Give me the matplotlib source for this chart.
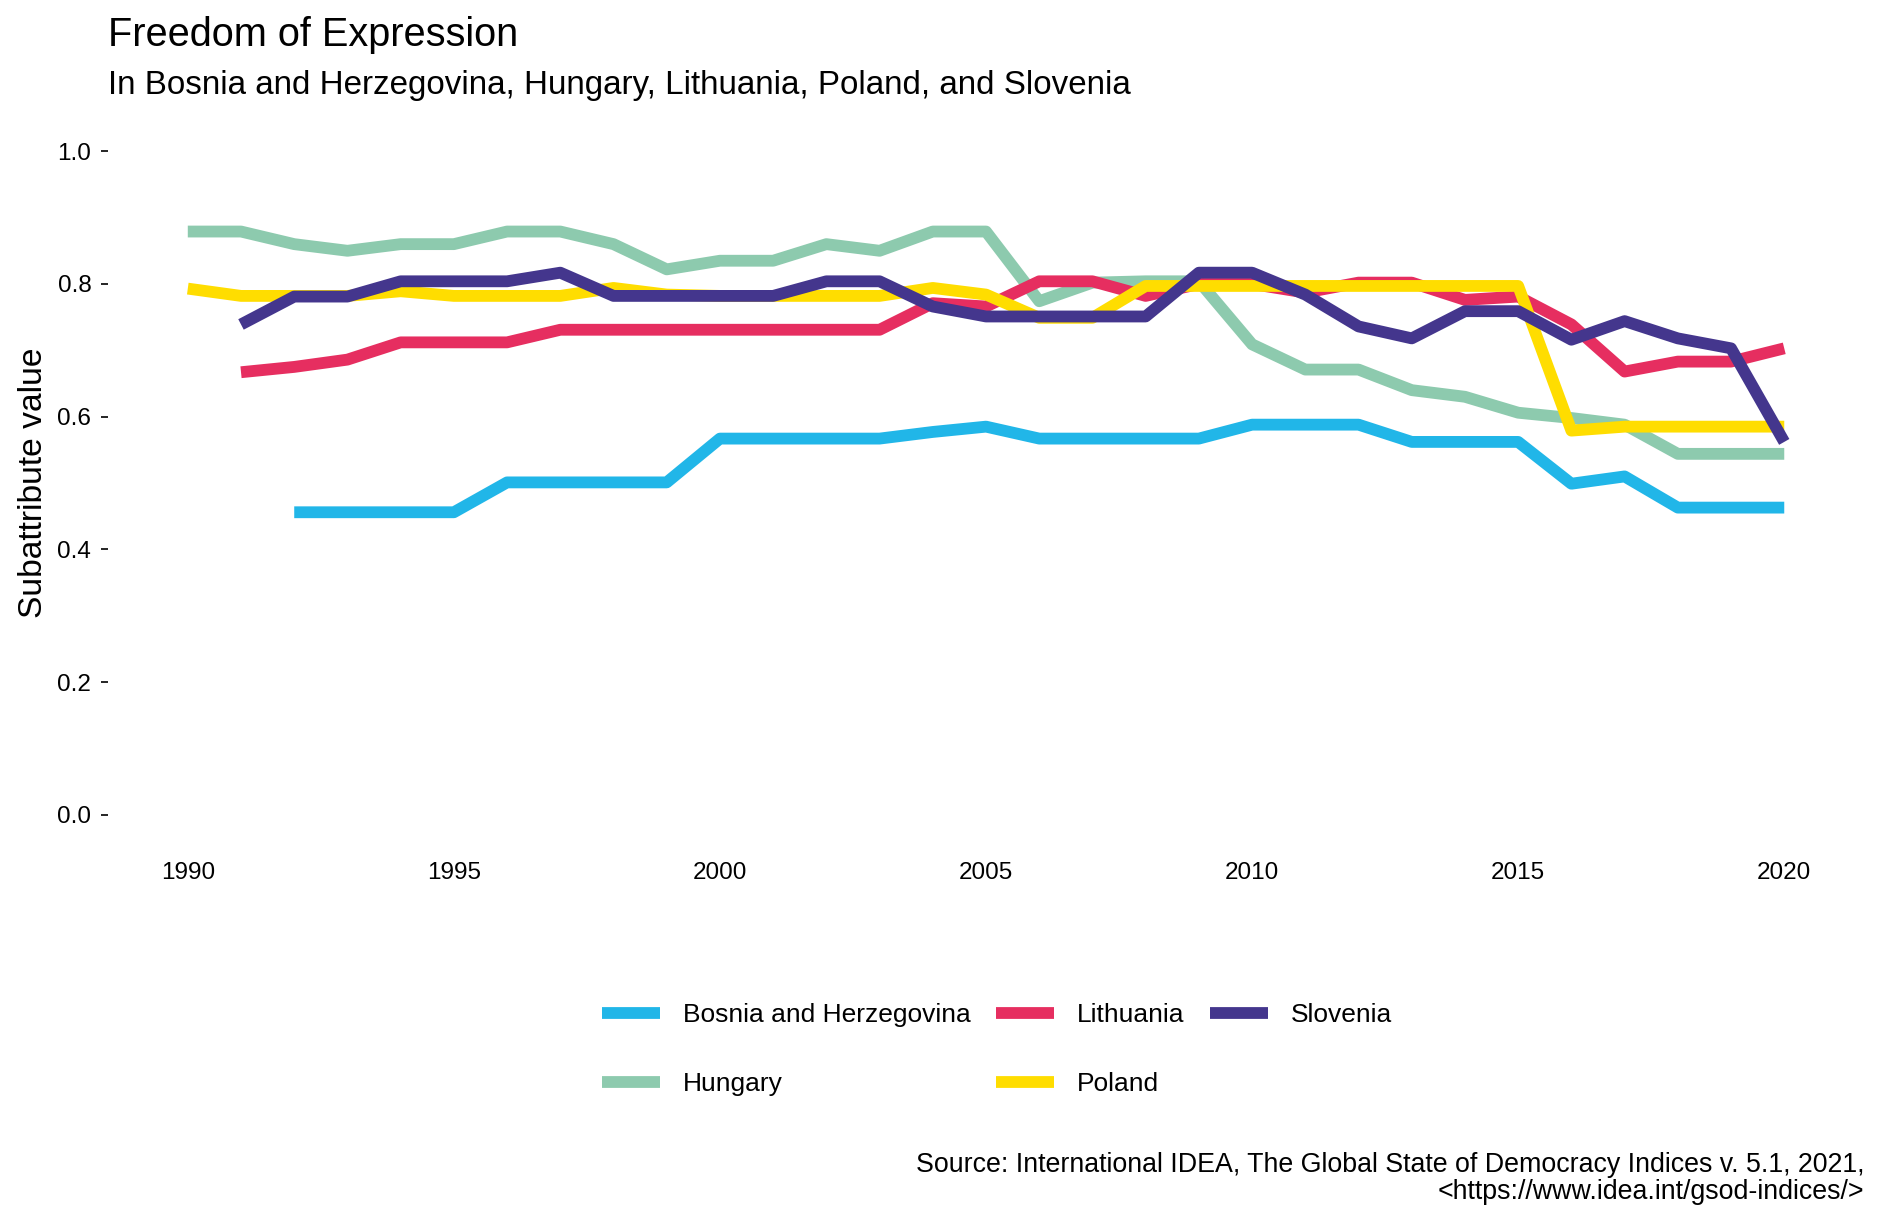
"""Freedom of Expression line chart (GSoD indices), five countries."""

import matplotlib

matplotlib.use('Agg')
import matplotlib.pyplot as plt

plt.rcParams['font.family'] = ['Liberation Sans', 'DejaVu Sans']

years_hun = list(range(1990, 2021))
years_pol = list(range(1990, 2021))
years_ltu = list(range(1991, 2021))
years_svn = list(range(1991, 2021))
years_bih = list(range(1992, 2021))

bosnia = [
    0.456, 0.456, 0.456, 0.456, 0.501, 0.501, 0.501, 0.501,
    0.567, 0.567, 0.567, 0.567, 0.577, 0.585, 0.567, 0.567, 0.567, 0.567,
    0.588, 0.588, 0.588, 0.562, 0.562, 0.562, 0.499, 0.510, 0.463, 0.463, 0.463,
]
hungary = [
    0.879, 0.879, 0.860, 0.850, 0.860, 0.860, 0.879, 0.879, 0.860, 0.822,
    0.835, 0.835, 0.860, 0.850, 0.879, 0.879, 0.774, 0.802, 0.804, 0.804,
    0.709, 0.671, 0.671, 0.640, 0.630, 0.606, 0.598, 0.588, 0.544, 0.544, 0.544,
]
lithuania = [
    0.667, 0.675, 0.686, 0.712, 0.712, 0.712, 0.731, 0.731, 0.731,
    0.731, 0.731, 0.731, 0.731, 0.771, 0.766, 0.804, 0.804, 0.782, 0.800,
    0.800, 0.787, 0.802, 0.802, 0.776, 0.781, 0.739, 0.668, 0.683, 0.683, 0.703,
]
poland = [
    0.793, 0.782, 0.782, 0.782, 0.789, 0.782, 0.782, 0.782, 0.794, 0.784,
    0.782, 0.782, 0.782, 0.782, 0.794, 0.784, 0.749, 0.749, 0.797, 0.797,
    0.797, 0.797, 0.797, 0.797, 0.797, 0.797, 0.579, 0.585, 0.585, 0.585, 0.585,
]
slovenia = [
    0.739, 0.781, 0.781, 0.804, 0.804, 0.804, 0.817, 0.782, 0.782,
    0.782, 0.782, 0.804, 0.804, 0.766, 0.751, 0.751, 0.751, 0.751, 0.817,
    0.817, 0.784, 0.736, 0.718, 0.759, 0.759, 0.716, 0.744, 0.718, 0.703, 0.562,
]

series = [
    ('Bosnia and Herzegovina', years_bih, bosnia, '#21b6e8'),
    ('Hungary', years_hun, hungary, '#8dcaae'),
    ('Lithuania', years_ltu, lithuania, '#e62e60'),
    ('Poland', years_pol, poland, '#ffdd00'),
    ('Slovenia', years_svn, slovenia, '#44368d'),
]

x_ticks = [1990, 1995, 2000, 2005, 2010, 2015, 2020]
y_ticks = [0.0, 0.2, 0.4, 0.6, 0.8, 1.0]

fig = plt.figure(figsize=(18.81, 12.22), dpi=100)
ax = fig.add_axes([0.0574, 0.306, 0.9336, 0.5974])

for name, xs, ys, color in series:
    ax.plot(
        xs, ys,
        color=color,
        linewidth=8.5,
        solid_capstyle='butt',
        solid_joinstyle='round',
        label=name,
    )

ax.set_xlim(1988.5, 2021.5)
ax.set_ylim(-0.05, 1.05)
ax.set_xticks(x_ticks)
ax.set_xticklabels([str(y) for y in x_ticks])
ax.set_yticks(y_ticks)
ax.set_yticklabels([f'{v:.1f}' for v in y_ticks])
ax.tick_params(axis='x', length=0, pad=10, labelsize=17.5)
ax.tick_params(axis='y', length=5, width=1.2, pad=7, labelsize=17.5)
for spine in ax.spines.values():
    spine.set_visible(False)
ax.set_ylabel('Subattribute value', fontsize=24.2, labelpad=6)

fig.text(0.0574, 0.971, 'Freedom of Expression', fontsize=28.6, va='center', ha='left')
fig.text(0.0574, 0.930,
         'In Bosnia and Herzegovina, Hungary, Lithuania, Poland, and Slovenia',
         fontsize=23.9, va='center', ha='left')

fig.legend(
    loc='center',
    bbox_to_anchor=(0.53, 0.141),
    ncol=3,
    frameon=False,
    fontsize=19,
    handlelength=2.2,
    handletextpad=0.87,
    columnspacing=0.95,
    labelspacing=1.72,
)

fig.text(0.991, 0.036,
         'Source: International IDEA, The Global State of Democracy Indices v. 5.1, 2021,\n'
         '<https://www.idea.int/gsod-indices/>',
         fontsize=19.3, ha='right', va='center', linespacing=1.05)

fig.savefig('out.png', dpi=100, facecolor='white')
